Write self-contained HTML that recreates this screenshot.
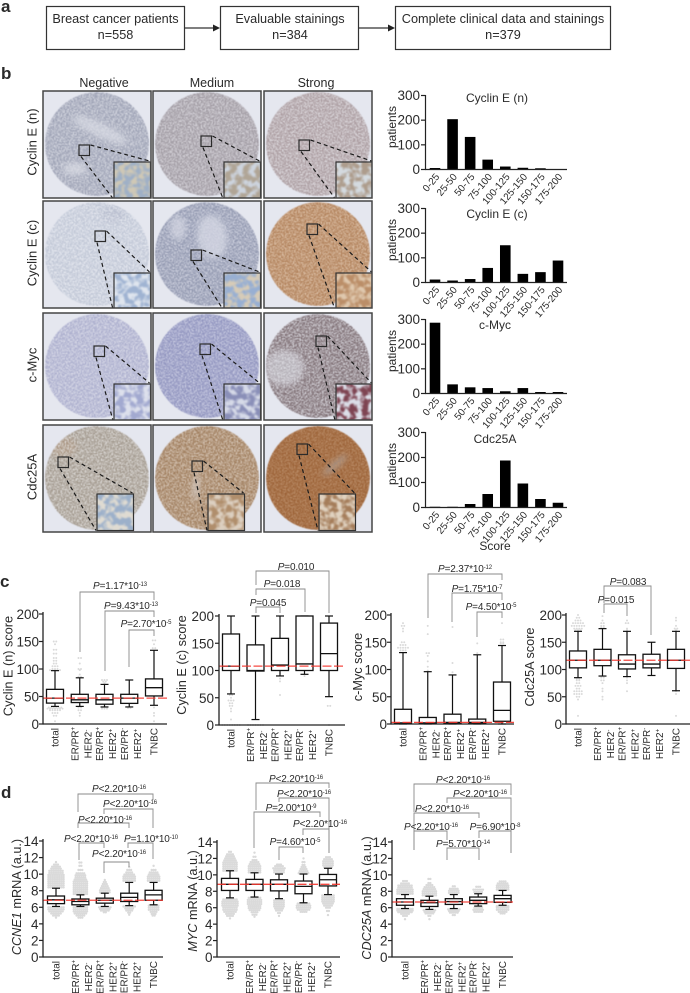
<!DOCTYPE html>
<html>
<head>
<meta charset="utf-8">
<title>Cyclin E, c-Myc and Cdc25A expression figure</title>
<style>
html,body{margin:0;padding:0;background:#fff}
svg{display:block;font-family:"Liberation Sans",Arial,sans-serif}
text{fill:#2a2a2a}
</style>
</head>
<body>
<svg id="fig" xmlns="http://www.w3.org/2000/svg" width="690" height="993" viewBox="0 0 690 993">
  <defs id="defs">
    <filter id="soft" x="-50%" y="-50%" width="200%" height="200%"><feGaussianBlur stdDeviation="3"/></filter>
  </defs>
  <text x="1" y="12" font-size="17" font-weight="700" fill="#111">a</text>
  <text x="1" y="79" font-size="17" font-weight="700" fill="#111">b</text>
  <text x="0" y="587" font-size="17" font-weight="700" fill="#111">c</text>
  <text x="1" y="798" font-size="17" font-weight="700" fill="#111">d</text>

  <g>
    <rect x="46.5" y="6.5" width="138" height="43" fill="#fff" stroke="#333" stroke-width="1.2"/>
    <text x="115.5" y="23" font-size="12.7" text-anchor="middle">Breast cancer patients</text>
    <text x="115.5" y="39" font-size="12.7" text-anchor="middle">n=558</text>
    <rect x="220.5" y="6.5" width="138" height="43" fill="#fff" stroke="#333" stroke-width="1.2"/>
    <text x="290" y="23" font-size="12.7" text-anchor="middle">Evaluable stainings</text>
    <text x="290" y="39" font-size="12.7" text-anchor="middle">n=384</text>
    <rect x="395.5" y="6.5" width="215" height="43" fill="#fff" stroke="#333" stroke-width="1.2"/>
    <text x="503" y="23" font-size="12.7" text-anchor="middle">Complete clinical data and stainings</text>
    <text x="503" y="39" font-size="12.7" text-anchor="middle">n=379</text>
    <line x1="184" y1="28" x2="216" y2="28" stroke="#333" stroke-width="1.3"/>
    <polygon points="213,24.5 220,28 213,31.5" fill="#222"/>
    <line x1="358" y1="28" x2="391" y2="28" stroke="#333" stroke-width="1.3"/>
    <polygon points="388,24.5 395,28 388,31.5" fill="#222"/>
  </g>

  <g font-size="12.5" text-anchor="middle">
    <text x="104" y="87">Negative</text>
    <text x="212" y="87">Medium</text>
    <text x="316" y="87">Strong</text>
  </g>
  <g font-size="13" text-anchor="middle">
    <text transform="translate(36.5 142) rotate(-90)">Cyclin E (n)</text>
    <text transform="translate(36.5 253) rotate(-90)">Cyclin E (c)</text>
    <text transform="translate(36.5 365) rotate(-90)">c-Myc</text>
    <text transform="translate(36.5 477) rotate(-90)">Cdc25A</text>
  </g>
  <g id="tissue"></g>
  <g id="hists"></g>
  <text x="495" y="550" font-size="12" text-anchor="middle">Score</text>
  <g id="boxes"></g>
</svg>
<script>
/* ---------- histogram data ---------- */
const histCategories = ['0-25','25-50','50-75','75-100','100-125','125-150','150-175','175-200'];
const histTicks = [0,100,200,300];
const cyclinNCounts = [4,202,130,38,10,5,3,0];
const cyclinCCounts = [10,6,12,57,149,33,40,87];
const cMycCounts = [285,35,23,20,7,20,4,4];
const cdc25aCounts = [1,1,12,52,186,94,32,17];

/* ---------- box plot data: [low whisker, q1, median, q3, high whisker] ---------- */
const subtypeLabels = [['total'],['ER/PR','+','HER2','-'],['ER/PR','+','HER2','+'],['ER/PR','-','HER2','+'],['TNBC']];
const scoreTicks = [0,50,100,150,200];
const mrnaTicks = [0,2,4,6,8,10,12,14];

const cyclinNBoxes = [[32,38,47,63,97],[32,39,44,54,84],[31,36,44,54,72],[31,37.5,47,54,80],[34,51,66,82,134]];
const cyclinCBoxes = [[57,100,108,167,200],[10,99,100,147,200],[90,100,110,159,200],[93,100,112,200,200],[52,100,131,187,200]];
const cMycBoxes = [[0,1,2,27,131],[0,1,2,12,96],[0,1,3,18,90],[0,1,3,9,127],[0,5,25,77,144]];
const cdc25aBoxes = [[85,103,117,134,170],[88,107,117,137,175],[87,101,110,127,170],[89,103,110,128,150],[61,102,117,137,170]];
const ccne1Boxes = [[6.1,6.44,6.9,7.36,8.3],[6.1,6.3,6.7,7.0,7.5],[6.1,6.5,6.85,7.1,7.7],[6.2,6.7,7.2,7.7,9.0],[6.3,6.85,7.5,8.05,9.0]];
const mycBoxes = [[7.2,8.1,8.85,9.57,10.5],[7.3,8.1,8.85,9.45,10.25],[7.1,8.05,8.85,9.4,10.1],[6.6,7.7,8.6,9.25,10.1],[7.6,8.65,9.4,10.05,10.8]];
const cdc25aMrnaBoxes = [[5.9,6.3,6.7,7.1,7.6],[5.8,6.15,6.6,6.9,7.4],[5.9,6.4,6.75,7.1,7.6],[6.2,6.5,6.9,7.3,7.7],[6.3,6.65,7.1,7.5,8.1]];

/* reference (population median) values */
const cyclinNReference = 47;
const cyclinCReference = 108;
const cMycReference = 3;
const cdc25aReference = 117;
const ccne1Reference = 6.85;
const mycReference = 8.85;
const cdc25aMrnaReference = 6.7;

/* ---------- outliers: [value, number of points] ---------- */
const cyclinNOutliers = [
 [[150,2],[145,1],[135,2],[128,2],[120,2],[115,2],[110,2],[105,3],[100,3],[98,5],[30,6],[28,7],[25,5],[20,3],[15,2],[5,1]],
 [[120,2],[110,1],[100,2],[98,1],[90,1],[86,2],[30,2],[25,2],[20,1],[15,1]],
 [[80,3],[77,2],[74,1],[30,3],[28,3]],
 [[29,2]],
 [[152,2],[145,1],[138,2],[30,1],[20,1],[15,1],[5,1]]
];
const cyclinCOutliers = [
 [[55,2],[50,1],[45,3],[40,2],[35,2],[30,1],[25,1],[10,1],[0,8]],
 [[0,7]],
 [[95,1],[85,1],[80,1],[55,1]],
 [[90,1]],
 [[35,2],[0,1]]
];
const cMycOutliers = [
 [[185,1],[180,2],[175,1],[170,1],[150,2],[145,3],[140,5],[135,3]],
 [[180,1],[165,1],[130,2],[125,1],[115,1],[105,1],[98,1]],
 [[178,1],[112,1],[95,1]],
 [[148,1],[130,1]],
 [[185,1],[155,2],[150,2],[148,2]]
];
const cdc25aOutliers = [
 [[200,1],[195,2],[190,3],[185,5],[180,6],[175,4],[172,3],[83,2],[80,2],[75,2],[70,3],[65,2],[60,4],[55,4],[50,2],[45,1],[15,1]],
 [[198,1],[190,1],[185,2],[180,2],[177,2],[85,2],[80,2],[75,1],[65,1],[60,1],[50,1],[45,1]],
 [[190,1],[185,2],[175,1],[172,1],[85,1],[80,1],[75,1],[60,1]],
 [],
 [[195,1],[190,1],[180,1],[175,2],[172,1],[60,1],[55,1],[15,1]]
];
const ccne1Outliers = [
 [[8.4,9],[8.65,9],[8.9,9],[9.15,9],[9.4,9],[9.65,9],[9.9,9],[10.15,8],[10.4,8],[10.65,6],[10.9,5],[11.15,3],[11.45,1],[6,9],[5.75,9],[5.5,8],[5.25,6],[5,4],[4.75,1]],
 [[7.6,8],[7.85,8],[8.1,8],[8.35,8],[8.6,8],[8.85,8],[9.1,8],[9.35,7],[9.6,6],[9.85,6],[10.1,5],[10.5,3],[11,2],[11.4,2],[6,8],[5.75,8],[5.5,8],[5.25,7],[5,5],[4.75,3]],
 [[7.8,6],[8.05,6],[8.3,5],[8.55,4],[8.8,3],[9.05,2],[9.3,1],[6,7],[5.8,6],[5.6,5],[5.4,2]],
 [[9.2,7],[9.45,7],[9.7,7],[9.95,6],[10.2,4],[10.5,3],[10.85,1],[6.1,7],[5.85,5],[5.6,4],[5.35,2],[5.1,1]],
 [[9.2,7],[9.45,7],[9.7,7],[9.95,6],[10.2,5],[10.5,3],[11,1],[6.2,6],[5.95,6],[5.7,6],[5.45,4],[5.2,3],[5,2]]
];
const mycOutliers = [
 [[10.5,8],[10.75,8],[11,8],[11.25,8],[11.5,8],[11.75,7],[12,6],[12.25,5],[12.5,4],[12.8,2],[7,8],[6.75,9],[6.5,9],[6.25,9],[6,8],[5.75,8],[5.5,7],[5.25,5],[5,4],[4.7,1]],
 [[10.3,7],[10.55,7],[10.8,7],[11.05,7],[11.3,6],[11.55,5],[11.8,3],[12.2,2],[12.7,1],[7.2,7],[6.95,8],[6.7,8],[6.45,8],[6.2,7],[5.95,7],[5.7,6],[5.45,4],[5.15,3],[4.9,1]],
 [[10.3,6],[10.55,6],[10.8,7],[11.05,5],[11.25,3],[6.9,6],[6.65,6],[6.4,6],[6.15,6],[5.9,5],[5.65,4],[5.35,2],[5,1]],
 [[10.2,6],[10.45,5],[10.7,4],[10.95,3],[11.2,2],[11.55,2],[12,1],[6.5,7],[6.25,8],[6,8],[5.75,7],[5.5,4]],
 [[10.9,5],[11.15,6],[11.4,6],[11.65,6],[11.9,5],[12.15,3],[7.5,7],[7.25,7],[7,7],[6.75,7],[6.5,6],[6.25,5],[6,3],[5.6,2],[5.1,1]]
];
const cdc25aMrnaOutliers = [
 [[7.7,9],[7.95,9],[8.2,9],[8.45,8],[8.7,8],[8.95,5],[9.25,3],[5.85,9],[5.65,9],[5.45,8],[5.25,5],[5,3],[4.6,1]],
 [[7.5,8],[7.75,8],[8,8],[8.25,7],[8.5,6],[8.75,4],[9,2],[9.5,2],[5.7,7],[5.5,6],[5.3,5],[5,2],[4.6,1]],
 [[7.8,6],[8.05,6],[8.3,5],[8.6,2],[5.8,7],[5.6,6],[5.4,5],[5.1,2]],
 [[7.9,5],[8.2,6],[8.55,3],[6,5],[5.75,6],[5.5,5]],
 [[8.2,7],[8.45,7],[8.7,7],[8.95,6],[9.2,4],[6.2,7],[6,7],[5.75,7],[5.5,5],[5.3,3]]
];

/* ---------- shared helpers ---------- */
const SVGNS = 'http://www.w3.org/2000/svg';
function el(tag, attrs, parent, txt) {
  const n = document.createElementNS(SVGNS, tag);
  for (const k in attrs) n.setAttribute(k, attrs[k]);
  if (txt !== undefined) n.textContent = txt;
  if (parent) parent.appendChild(n);
  return n;
}
function linearScale(dMin, dMax, rMin, rMax) {
  return v => rMin + (v - dMin) / (dMax - dMin) * (rMax - rMin);
}
const defs = document.getElementById('defs');

/* ---------- tissue micrographs (decorative textures) ---------- */
const colX = [43,153,264];
const rowY = [91,201,313,425];
const cellSize = 108;
const tissueCells = [
 {r:0,c:0,base:'#989db1',spk:'#dcdee6',nuc:'#9fb0c6',lite:'#cfc8b6',box:[79,145],ins:[114,162],blot:[[100,130,30,7,25,'#d5d8e2'],[75,169,12,6,0,'#d9dbe4']]},
 {r:0,c:1,base:'#9a949c',spk:'#dedce2',nuc:'#b0a596',lite:'#cdd4de',box:[201,136],ins:[224,162],blot:[]},
 {r:0,c:2,base:'#a59599',spk:'#e4e2e6',nuc:'#ad9c8c',lite:'#d4dadf',box:[299,140],ins:[336,162],blot:[]},
 {r:1,c:0,base:'#bcc3d3',spk:'#eceef4',nuc:'#9fb3d2',lite:'#dfe5ee',box:[95,231],ins:[114,273],blot:[[113,214,12,8,0,'#a8aec2']]},
 {r:1,c:1,base:'#8a91aa',spk:'#d8dae6',nuc:'#98afd2',lite:'#d6cbb8',box:[191,250],ins:[224,273],blot:[[212,237,15,22,-8,'#d6d9e4'],[178,228,8,12,0,'#cfd2de']]},
 {r:1,c:2,base:'#ad7b53',spk:'#e2c8b0',nuc:'#bb8e68',lite:'#dfc8ae',box:[307,224],ins:[336,273],blot:[]},
 {r:2,c:0,base:'#a7aacb',spk:'#e0e1ec',nuc:'#a2a9d0',lite:'#dde0ec',box:[94,346],ins:[114,384],blot:[]},
 {r:2,c:1,base:'#8a8ebb',spk:'#d0d2e6',nuc:'#8a8fb8',lite:'#d6dae8',box:[200,344],ins:[224,384],blot:[]},
 {r:2,c:2,base:'#746368',spk:'#e2e2e8',nuc:'#7e4452',lite:'#dcdee8',box:[316,336],ins:[336,384],blot:[[284,368,20,18,0,'#c2c0c8']]},
 {r:3,c:0,base:'#9c9286',spk:'#e4e2e0',nuc:'#9cb0ca',lite:'#dfdbd2',box:[58,457],ins:[97,494],blot:[[63,447,14,10,0,'#a58a72']]},
 {r:3,c:1,base:'#9a7654',spk:'#ded0c2',nuc:'#b08e6c',lite:'#dccfc0',box:[192,461],ins:[208,494],blot:[[196,487,3,14,5,'#d8d8de']]},
 {r:3,c:2,base:'#995e32',spk:'#be926e',nuc:'#a57d5a',lite:'#e0d2c0',box:[297,444],ins:[319,494],blot:[[335,465,16,4,-40,'#a6a4a8']]}
];
const tissueRoot = document.getElementById('tissue');
tissueCells.forEach((cell, i) => {
  const x = colX[cell.c], y = rowY[cell.r], cx = x + 54, cy = y + 53;
  const fid = 'tex' + i, iid = 'ins' + i, cid = 'clip' + i, pid = 'panel' + i;
  const f = el('filter', {id:fid, x:'-5%', y:'-5%', width:'110%', height:'110%', 'color-interpolation-filters':'sRGB'}, defs);
  el('feTurbulence', {type:'fractalNoise', baseFrequency:'0.75', numOctaves:'2', seed:String(i+3), result:'n'}, f);
  el('feFlood', {'flood-color':cell.spk, result:'fl'}, f);
  el('feColorMatrix', {in:'n', type:'matrix', values:'0 0 0 0 0 0 0 0 0 0 0 0 0 0 0 3.2 0 0 0 -1.2', result:'mask'}, f);
  el('feComposite', {in:'fl', in2:'mask', operator:'in', result:'spk'}, f);
  el('feComposite', {in:'spk', in2:'SourceGraphic', operator:'atop', result:'mix'}, f);
  el('feGaussianBlur', {in:'mix', stdDeviation:'0.4'}, f);
  const g = el('filter', {id:iid, x:'0', y:'0', width:'1', height:'1', 'color-interpolation-filters':'sRGB'}, defs);
  el('feTurbulence', {type:'fractalNoise', baseFrequency:'0.16', numOctaves:'2', seed:String(i+20), result:'n'}, g);
  el('feFlood', {'flood-color':cell.lite, result:'fl'}, g);
  el('feColorMatrix', {in:'n', type:'matrix', values:'0 0 0 0 0 0 0 0 0 0 0 0 0 0 0 4.5 0 0 0 -1.8', result:'mask'}, g);
  el('feComposite', {in:'fl', in2:'mask', operator:'in', result:'spk'}, g);
  el('feComposite', {in:'spk', in2:'SourceGraphic', operator:'atop', result:'mix'}, g);
  el('feGaussianBlur', {in:'mix', stdDeviation:'0.9'}, g);
  const cp = el('clipPath', {id:cid}, defs);
  el('circle', {cx:cx, cy:cy, r:52}, cp);
  const pc = el('clipPath', {id:pid}, defs);
  el('rect', {x:x, y:y, width:cellSize, height:cellSize - 1}, pc);

  const panel = el('g', {'clip-path':'url(#' + pid + ')'}, tissueRoot);
  
  
  el('rect', {x:x, y:y, width:cellSize, height:cellSize, fill:'#e5e7ef'}, panel);
  const tissue = el('g', {filter:'url(#' + fid + ')'}, panel);
  
  
  const inner = el('g', {'clip-path':'url(#' + cid + ')'}, tissue);
  el('circle', {cx:cx, cy:cy, r:52, fill:cell.base}, inner);
  cell.blot.forEach(b => {
    el('ellipse', {cx:b[0], cy:b[1], rx:b[2], ry:b[3], fill:b[5], opacity:.75, filter:'url(#soft)', transform:'rotate(' + b[4] + ' ' + b[0] + ' ' + b[1] + ')'}, inner);
  });
  const s = 10.5, bx = cell.box[0], by = cell.box[1], ix = cell.ins[0], iy = cell.ins[1], iw = 36.5;
  const dash1 = el('line', {x1:bx + s + 1, y1:by, x2:ix + iw - 1, y2:iy - 1, stroke:'#1c1c1c', 'stroke-width':1.2, 'stroke-dasharray':'4 3'}, panel);
  
  
  const dash2 = el('line', {x1:bx + 2, y1:by + s + 1, x2:ix - 1, y2:iy + iw, stroke:'#1c1c1c', 'stroke-width':1.2, 'stroke-dasharray':'4 3'}, panel);
  
  
  const small = el('rect', {x:bx, y:by, width:s, height:s, fill:'none', stroke:'#2b2b2b', 'stroke-width':1.2}, panel);
  
  
  const inset = el('rect', {x:ix, y:iy, width:iw, height:iw, fill:cell.nuc, filter:'url(#' + iid + ')'}, panel);
  
  
  const insetFrame = el('rect', {x:ix, y:iy, width:iw, height:iw, fill:'none', stroke:'#333', 'stroke-width':1.2}, panel);
  
  
  const frame = el('rect', {x:x, y:y, width:cellSize, height:cellSize - 1, fill:'none', stroke:'#454545', 'stroke-width':1.5}, tissueRoot);
  
  
});

/* ---------- histograms ---------- */
const histCharts = [
 {name:'cyclin-e-n', title:'Cyclin E (n)', counts:cyclinNCounts, top:95, bottom:169, tx:497, tdy:7},
 {name:'cyclin-e-c', title:'Cyclin E (c)', counts:cyclinCCounts, top:208, bottom:282, tx:497, tdy:10},
 {name:'c-myc', title:'c-Myc', counts:cMycCounts, top:319, bottom:393, tx:495, tdy:10},
 {name:'cdc25a', title:'Cdc25A', counts:cdc25aCounts, top:432, bottom:507, tx:495, tdy:11}
];
const histRoot = document.getElementById('hists');
histCharts.forEach(ch => {
  const g = el('g', {}, histRoot);
  
  
  const y = linearScale(0, 300, ch.bottom, ch.top);
  const x = linearScale(0, histCategories.length - 1, 435, 558);
  ch.counts.forEach((v, i) => {
    const bar = el('rect', {x:x(i) - 5.3, y:y(v), width:10.6, height:ch.bottom - y(v), fill:'#000'}, g);
    
    
  });
  const yAxis = el('line', {x1:425.5, y1:ch.top, x2:425.5, y2:ch.bottom + .5, stroke:'#222', 'stroke-width':1.2}, g);
  
  
  const xAxis = el('line', {x1:425, y1:ch.bottom + .5, x2:567, y2:ch.bottom + .5, stroke:'#222', 'stroke-width':1.2}, g);
  
  
  histTicks.forEach(t => {
    const tick = el('line', {x1:421, y1:y(t) + .5, x2:425.5, y2:y(t) + .5, stroke:'#222', 'stroke-width':1.2}, g);
    
    
    const lab = el('text', {x:420, y:y(t) + 5, 'font-size':13.5, 'text-anchor':'end'}, g, String(t));
    
    
  });
  histCategories.forEach((c, i) => {
    const tx = x(i) + 5, ty = ch.bottom + 8;
    const lab = el('text', {x:tx, y:ty, 'font-size':10, 'text-anchor':'end', transform:'rotate(-50 ' + tx + ' ' + ty + ')'}, g, c);
    
    
  });
  const yt = el('text', {transform:'translate(396 ' + (ch.top + 32) + ') rotate(-90)', 'font-size':12, 'text-anchor':'middle'}, g, 'patients');
  
  
  const tt = el('text', {x:ch.tx, y:ch.top + ch.tdy, 'font-size':12, 'text-anchor':'middle'}, g, ch.title);
  
  
});

/* ---------- box plots ---------- */
/* bracket: x1,x2 in px, top, left end, right end, label centre x, label baseline y */
const boxCharts = [
 {name:'cyclin-e-n-score', title:[['Cyclin E (n) score',0]], boxes:cyclinNBoxes, out:cyclinNOutliers, ref:cyclinNReference, ticks:scoreTicks, max:200, ax:43, end:167, first:55, step:24.75, top:614, bottom:724, tx:12.5, ty:666, dotR:1, dotS:2.5, tickEnd:39,
  brackets:[[80,154,592,652,600,'=1.17*10','-13',120,589],[105,154,611,671,617,'=9.43*10','-13',131,609],[129,154,630,667,636,'=2.70*10','-5',146,627]]},
 {name:'cyclin-e-c-score', title:[['Cyclin E (c) score',0]], boxes:cyclinCBoxes, out:cyclinCOutliers, ref:cyclinCReference, ticks:scoreTicks, max:200, ax:219, end:345, first:231, step:24.5, top:616, bottom:725, tx:186, ty:665, dotR:1, dotS:2.5, tickEnd:214,
  brackets:[[256,329,571,585,613,'=0.010','',296,570],[256,305,589,595,612,'=0.018','',282,587],[256,280,607,613,613,'=0.045','',268,606]]},
 {name:'c-myc-score', title:[['c-Myc score',0]], boxes:cMycBoxes, out:cMycOutliers, ref:cMycReference, ticks:scoreTicks, max:200, ax:391, end:514, first:403, step:24.75, top:615, bottom:724, tx:362, ty:667, dotR:1, dotS:2.5, tickEnd:387,
  brackets:[[428,502,574,618,580,'=2.37*10','-12',465,572],[452,502,593,622,600,'=1.75*10','-7',477,592],[477,502,612,637,618,'=4.50*10','-5',491,610]]},
 {name:'cdc25a-score', title:[['Cdc25A score',0]], boxes:cdc25aBoxes, out:cdc25aOutliers, ref:cdc25aReference, ticks:scoreTicks, max:200, ax:566, end:690, first:578, step:24.5, top:615, bottom:724, tx:534, ty:667, dotR:1, dotS:2.5, tickEnd:562,
  brackets:[[604,651,586,603,635,'=0.083','',628,585],[604,627,604,613,616,'=0.015','',616,603]]},
 {name:'ccne1-mrna', title:[['CCNE1',1],[' mRNA (a.u.)',0]], boxes:ccne1Boxes, out:ccne1Outliers, ref:ccne1Reference, ticks:mrnaTicks, max:14, ax:43, end:163, first:56, step:24.4, top:841, bottom:957, tx:21, ty:897, dotR:1.2, dotS:1.9, tickEnd:38.5,
  brackets:[[78,153,794,812,800,'<2.20*10','-16',119,792],[104,153,809,814,828,'<2.20*10','-16',130,807],[78,129,823,828,828,'<2.20*10','-16',105,823],[79,104,843,860,848,'<2.20*10','-16',91,842],[128,153,843,848,859,'=1.10*10','-10',151,842],[104,129,862,873,867,'<2.20*10','-16',119,857]]},
 {name:'myc-mrna', title:[['MYC',1],[' mRNA (a.u.)',0]], boxes:mycBoxes, out:mycOutliers, ref:mycReference, ticks:mrnaTicks, max:14, ax:217, end:340, first:230, step:24.5, top:842, bottom:957, tx:197, ty:901, dotR:1.2, dotS:1.9, tickEnd:212.5,
  brackets:[[256,329,783,810,788,'<2.20*10','-16',296,782],[279,329,798,802,853,'<2.20*10','-16',304,797],[254,320,812,848,817,'=2.00*10','-9',291,811],[303,329,829,835,853,'<2.20*10','-16',320,827],[279,303,847,860,853,'=4.60*10','-5',295,845]]},
 {name:'cdc25a-mrna', title:[['CDC25A',1],[' mRNA (a.u.)',0]], boxes:cdc25aMrnaBoxes, out:cdc25aMrnaOutliers, ref:cdc25aMrnaReference, ticks:mrnaTicks, max:14, ax:392, end:513, first:405, step:24.4, top:842, bottom:957, tx:371, ty:898, dotR:1.2, dotS:1.9, tickEnd:387.5,
  brackets:[[414,511,784,812,795,'<2.20*10','-16',463,783],[447,511,798,803,853,'<2.20*10','-16',480,797],[414,479,813,850,818,'<2.20*10','-16',442,812],[414,447,831,850,840,'<2.20*10','-16',431,830],[479,511,831,838,853,'=6.90*10','-8',495,830],[447,479,848,860,860,'=5.70*10','-14',463,847]]}
];
const boxRoot = document.getElementById('boxes');
boxCharts.forEach(ch => {
  const g = el('g', {}, boxRoot);
  
  
  const y = linearScale(0, ch.max, ch.bottom, ch.top);
  const x = i => ch.first + i * ch.step;
  const halfBox = 8.5, halfCap = 4;

  ch.out.forEach((rows, i) => {
    rows.forEach(pair => {
      for (let j = 0; j < pair[1]; j++) {
        const dot = el('circle', {cx:x(i) + (j - (pair[1] - 1) / 2) * ch.dotS, cy:y(pair[0]), r:ch.dotR, fill:'#dadada'}, g);
        
        
      }
    });
  });

  ch.boxes.forEach((b, i) => {
    const cx = x(i);
    const wh = el('line', {x1:cx, y1:y(b[0]), x2:cx, y2:y(b[4]), stroke:'#111', 'stroke-width':1.2}, g);
    
    
    [b[0], b[4]].forEach(v => {
      const cap = el('line', {x1:cx - halfCap, y1:y(v), x2:cx + halfCap, y2:y(v), stroke:'#111', 'stroke-width':1.2}, g);
      
      
    });
    const rect = el('rect', {x:cx - halfBox, y:y(b[3]), width:halfBox * 2, height:y(b[1]) - y(b[3]), fill:'#fff', stroke:'#111', 'stroke-width':1.3}, g);
    
    
    const med = el('line', {x1:cx - halfBox, y1:y(b[2]), x2:cx + halfBox, y2:y(b[2]), stroke:'#111', 'stroke-width':1.3}, g);
    
    
  });

  const refLine = el('line', {x1:ch.ax, y1:y(ch.ref), x2:ch.end, y2:y(ch.ref), stroke:'#f4372e', 'stroke-width':1.3, 'stroke-dasharray':'9 2.5', opacity:.9}, g);
  
  

  const yAxis = el('line', {x1:ch.ax, y1:ch.top - 2, x2:ch.ax, y2:ch.bottom + .6, stroke:'#222', 'stroke-width':1.3}, g);
  
  
  const xAxis = el('line', {x1:ch.ax, y1:ch.bottom, x2:ch.end, y2:ch.bottom, stroke:'#222', 'stroke-width':1.3}, g);
  
  

  ch.ticks.forEach(t => {
    const tick = el('line', {x1:ch.ax - 4, y1:y(t), x2:ch.ax, y2:y(t), stroke:'#222', 'stroke-width':1.2}, g);
    
    
    const lab = el('text', {x:ch.tickEnd, y:y(t) + 5, 'font-size':13.5, 'text-anchor':'end'}, g, String(t));
    
    
  });

  const tt = el('text', {transform:'translate(' + ch.tx + ' ' + ch.ty + ') rotate(-90)', 'font-size':12.7, 'text-anchor':'middle'}, g);
  
  
  ch.title.forEach(part => {
    el('tspan', part[1] ? {'font-style':'italic'} : {}, tt, part[0]);
  });

  subtypeLabels.forEach((lines, i) => {
    const cx = x(i), top = ch.bottom + 4;
    if (lines.length === 1) {
      const bx = cx + 3.5;
      const lab = el('text', {x:bx, y:top, 'font-size':10, 'text-anchor':'end', transform:'rotate(-90 ' + bx + ' ' + top + ')'}, g, lines[0]);
      
      
    } else {
      [[lines[0], lines[1], -5], [lines[2], lines[3], 8]].forEach(row => {
        const bx = cx + row[2] + 3.5, mid = top + 16;
        const lab = el('text', {x:bx, y:mid, 'font-size':10, 'text-anchor':'middle', transform:'rotate(-90 ' + bx + ' ' + mid + ')'}, g);
        
        
        el('tspan', {}, lab, row[0]);
        el('tspan', {dy:-3.5, 'font-size':6}, lab, row[1]);
      });
    }
  });

  ch.brackets.forEach(br => {
    const path = el('path', {d:'M' + br[0] + ' ' + br[3] + 'V' + br[2] + 'H' + br[1] + 'V' + br[4], fill:'none', stroke:'#8a8a8a', 'stroke-width':.9}, g);
    
    
    const lab = el('text', {x:br[7], y:br[8], 'font-size':10, 'text-anchor':'middle', 'letter-spacing':'-0.15'}, g);
    
    
    el('tspan', {'font-style':'italic'}, lab, 'P');
    el('tspan', {}, lab, br[5]);
    if (br[6]) el('tspan', {dy:-3, 'font-size':6}, lab, br[6]);
  });
});
</script>
</body>
</html>
